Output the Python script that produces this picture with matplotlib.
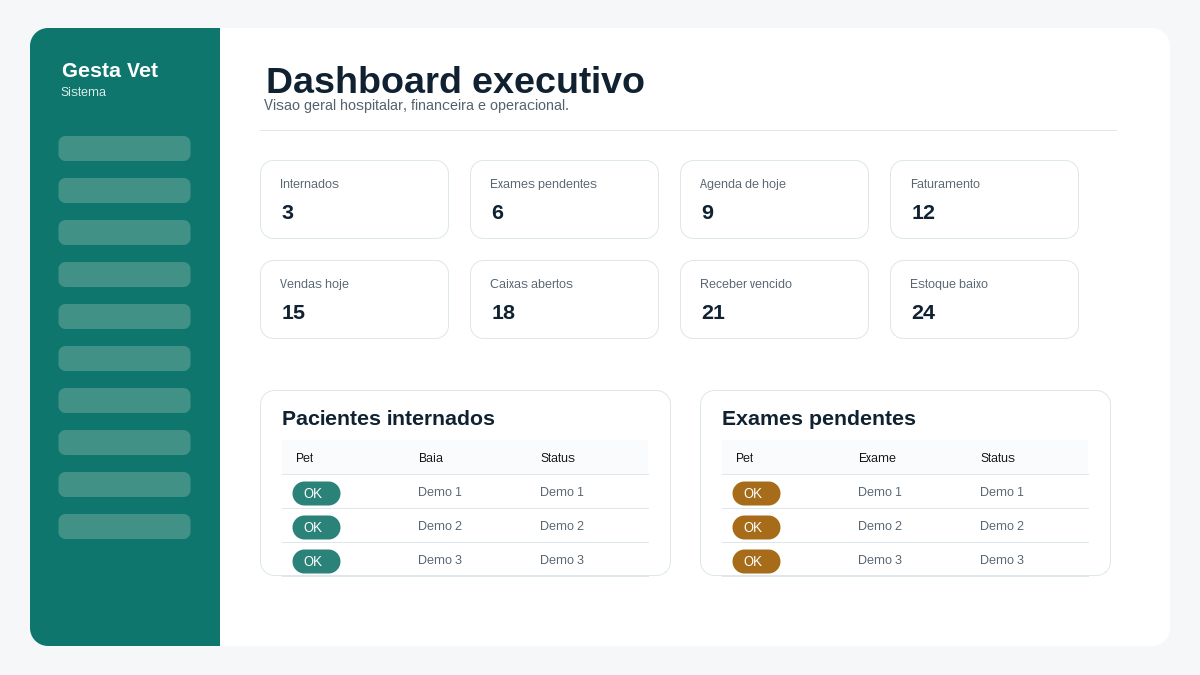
import matplotlib
matplotlib.use("Agg")
import matplotlib.pyplot as plt
import numpy as np
from matplotlib.patches import Polygon, Rectangle

plt.rcParams['font.family'] = ['Liberation Sans', 'DejaVu Sans']
plt.rcParams['text.hinting'] = 'native'
plt.rcParams['text.hinting_factor'] = 1

# card contents
kpi_labels = ["Internados", "Exames pendentes", "Agenda de hoje", "Faturamento",
              "Vendas hoje", "Caixas abertos", "Receber vencido", "Estoque baixo"]
kpi_values = [3, 6, 9, 12, 15, 18, 21, 24]

panel_titles = ["Pacientes internados", "Exames pendentes"]
panel_headers = [["Pet", "Baia", "Status"], ["Pet", "Exame", "Status"]]
panel_rows = ["Demo 1", "Demo 2", "Demo 3"]
panel_badge = ["#2a8278", "#a66c1a"]
nav_count = 10

TEAL = "#0f766e"
DARK = "#102231"
GREY = "#55636f"
BORDER = "#dde7ec"
LINE = 0.72


def px(size):
    # css pixels to points at dpi 100
    return size * 0.72


def round_box(ax, x0, y0, x1, y1, r, **kw):
    # true circular corners, FancyBboxPatch corners come out too square
    t = np.linspace(0, np.pi / 2, 16)
    xs = np.concatenate([x1 - r + r * np.sin(t), x1 - r + r * np.cos(t),
                         x0 + r - r * np.sin(t), x0 + r - r * np.cos(t)])
    ys = np.concatenate([y0 + r - r * np.cos(t), y1 - r + r * np.sin(t),
                         y1 - r + r * np.cos(t), y0 + r - r * np.sin(t)])
    ax.add_patch(Polygon(np.column_stack([xs, ys]), closed=True, **kw))


def label(ax, x, y, s, size, color, weight="normal", **kw):
    # y is the text baseline
    ax.text(x, y, s, fontsize=px(size), color=color, fontweight=weight,
            va="baseline", ha="left", **kw)


fig = plt.figure(figsize=(12, 6.75), dpi=100, facecolor="#f5f7f9")
ax = fig.add_axes([0, 0, 1, 1])
ax.set_xlim(0, 1200)
ax.set_ylim(675, 0)
ax.axis("off")

# main white sheet
round_box(ax, 30, 28, 1170, 646, 18, fc="white", ec="none")

# sidebar
round_box(ax, 30, 28, 210, 646, 18, fc=TEAL, ec="none")
ax.add_patch(Rectangle((190, 28), 30, 618, fc=TEAL, ec="none"))
label(ax, 62, 77, "Gesta Vet", 21.2, "white", "bold")
label(ax, 60.5, 96, "Sistema", 12.3, "#e3f0ee")
for i in range(nav_count):
    top = 136 + i * 42
    round_box(ax, 58.5, top, 190.5, top + 25, 7, fc="#429187", ec="none")

# header
label(ax, 266, 93, "Dashboard executivo", 37, DARK, "bold")
label(ax, 264, 110, "Visao geral hospitalar, financeira e operacional.", 14.5, GREY)
ax.plot([260, 1115.5], [130, 130], color=BORDER, lw=LINE)

# kpi cards
for i, (name, val) in enumerate(zip(kpi_labels, kpi_values)):
    col = i % 4
    row = i // 4
    x0 = 260.5 + col * 210
    y0 = 160.5 + row * 100
    round_box(ax, x0, y0, x0 + 188, y0 + 78, 13, fc="white", ec=BORDER, lw=LINE)
    label(ax, x0 + 19.5, y0 + 27.5, name, 12.3, GREY)
    label(ax, x0 + 21, y0 + 58.5, str(val), 21, DARK, "bold")

# tables
for p in range(2):
    off = p * 440
    round_box(ax, 260.5 + off, 390.5, 670.5 + off, 575.5, 14, fc="white", ec=BORDER, lw=LINE)
    label(ax, 282 + off, 425, panel_titles[p], 21, DARK, "bold")
    ax.add_patch(Rectangle((282 + off, 440), 366, 34, fc="#f9fbfc", ec="none"))
    cols = [295.5 + off, 418 + off, 540 + off]
    for cx, head in zip(cols, panel_headers[p]):
        label(ax, cx, 462, head, 12.3, "#111111")
    ax.plot([282 + off, 647.5 + off], [474, 474], color=BORDER, lw=LINE)
    for r, txt in enumerate(panel_rows):
        base = 474 + r * 34
        round_box(ax, 292.5 + off, base + 7.5, 340.5 + off, base + 31.5, 12,
                  fc=panel_badge[p], ec="none")
        label(ax, 303.5 + off, base + 24, "OK", 12.8, "white")
        label(ax, cols[1], base + 22, txt, 12.2, GREY)
        label(ax, cols[2], base + 22, txt, 12.2, GREY)
        ax.plot([282 + off, 647.5 + off], [base + 34, base + 34], color=BORDER, lw=LINE)

fig.savefig("out.png", dpi=100, facecolor=fig.get_facecolor())
